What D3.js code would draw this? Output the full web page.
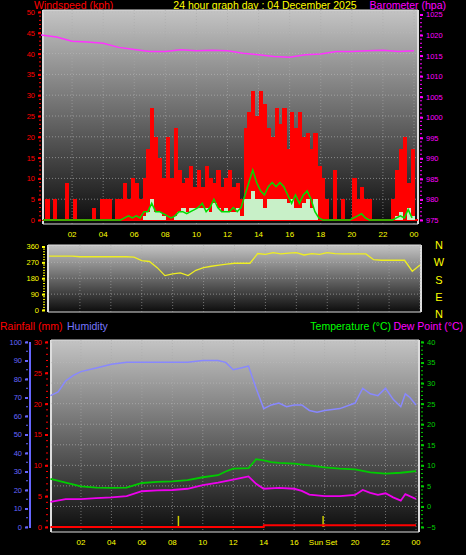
<!DOCTYPE html>
<html><head><meta charset="utf-8">
<script src="https://cdn.jsdelivr.net/npm/d3@7"></script>
<style>body{margin:0;background:#000}svg{display:block;font-family:"Liberation Sans",Arial,sans-serif}</style>
</head><body><svg id="c" width="466" height="555"></svg>
<script>
// ---- data ----
const hourTicks = ["02","04","06","08","10","12","14","16","18","20","22","00"];
const gust = [0,5,0,5, 0,0,9,0, 5,0,0,0, 0,3,0,5, 5,5,0,5, 5,9,5,10, 9,5,10,17, 27,20,15,10,
  20,10,22,12, 9,10,13,8, 12,8,13,10, 9,12,8,10, 12,8,9,5, 22,26,31,25, 31,28,22,20, 27,23,27,17,
  26,22,26,20, 21,17,21,13, 10,5,0,12, 0,5,0,0, 10,5,8,5, 5,0,0,0, 0,0,5,12, 17,20,9,17];
const windAvg = [0,0,0,0, 0,0,0,0, 0,0,0,0, 0,0,0,0, 0,0,0,0, 0,0.5,1,0.5, 1,0.5,2,2, 4,2,2,1.5,
  1,0.5,1,2, 2,1.5,2,2.5, 3,4,2,3, 5,3,2,2, 2,3,2,3, 6,9,12,9, 7,6,8,9, 8,9,8,6,
  4,6,4,6, 7,5,2,0.5, 0,0,0,0, 0,0,0,0, 0.5,1,1.5,0.5, 0,0,0,0, 0,0,0,0.5, 1,0.5,2.5,0.5];
const windSpd = [0,0,0,0, 0,0,0,0, 0,0,0,0, 0,0,0,0, 0,0,0,0, 0,0,0,0, 0,0,1,2, 5,2,2,1,
  0,0,1,2, 3,2,3,3, 3,3,3,2, 4,3,2,3, 2,2,3,1, 5,5,7,5, 5,3,5,5, 5,5,5,4,
  5,3,3,4, 5,3,5,0, 0,0,0,0, 0,0,0,0, 0,0,0,0, 0,0,0,0, 0,0,0,1, 2,0,3,1];
const baro = [1020,1019.5,1018.5,1018.3,1018,1017,1016.5,1016,1016,1016.4,1016.2,1016.3,1016.2,
  1015.6,1015.2,1014.8,1014.6,1015.2,1015.4,1016,1016,1016.2,1016.3,1016,1016.2];
const windDir = [305,305,305,305,302,302,302,302,302,302,302,300,280,275,240,195,205,210,195,225,
  240,248,255,260,265,265,265,320,315,325,318,322,325,312,320,315,325,320,318,318,318,318,
  285,282,282,282,282,220,255];
const humHours = [0,0.5,1,1.5,2,3,4,5,6,8,9,10,11,11.5,12,12.5,13,13.5,14,14.5,15,15.5,16,16.5,17,17.5,18,19,20,20.5,21,21.5,22,22.5,23,23.3,23.6,24];
const humidity = [71,73,79,82,84,86,88,89,89,89,89,90,90,89,85,86,87,75,64,66,67,65,66,66,63,62,63,64,67,75,72,71,75,69,65,72,70,66];
const tHours = [0,1,2,3,4,5,6,7,8,9,10,11,11.5,12,13,13.5,14,14.5,15,16,17,18,19,20,21,22,23,24];
const temp = [6.7,5.8,4.9,4.6,4.5,4.6,5.7,6.0,6.1,6.4,7.1,7.6,8.5,9.2,9.3,11.5,11.2,10.8,10.6,10.4,10,9.5,9.2,9,8.3,8,8.2,8.6];
const dHours = [0,1,2,3,4,5,6,7,8,9,10,11,12,13,13.5,14,15,16,16.5,17,18,19,20,20.5,21,21.5,22,22.5,23,23.3,24];
const dew = [1.1,1.8,1.8,2.0,2.2,2.5,3.7,3.9,4.0,4.3,5.2,5.8,6.5,7.3,5.5,4.3,4.5,4.3,3.8,2.9,2.5,2.5,2.8,4,3.3,2.8,3.2,2.2,1.4,3,1.8];
const rainHours = [0,14,14.01,24];
const rain = [0,0,0.3,0.3];
const sunEvents = [8.4,17.9];

// ---- drawing ----
const svg = d3.select("#c");
const defs = svg.append("defs");
const g = defs.append("linearGradient").attr("id","bg").attr("x1",0).attr("x2",0).attr("y1",0).attr("y2",1);
g.append("stop").attr("offset","0%").attr("stop-color","#c4c4c4");
g.append("stop").attr("offset","100%").attr("stop-color","#0c0c0c");

function panel(x0,x1,y0,y1){
  svg.append("rect").attr("x",x0).attr("y",y0).attr("width",x1-x0).attr("height",y1-y0).attr("fill","url(#bg)");
  svg.append("line").attr("x1",x0).attr("x2",x0).attr("y1",y0).attr("y2",y1).attr("stroke","#ddd").attr("stroke-width",2);
  svg.append("line").attr("x1",x1).attr("x2",x1).attr("y1",y0).attr("y2",y1).attr("stroke","#ddd").attr("stroke-width",2);
  svg.append("line").attr("x1",x0).attr("x2",x1).attr("y1",y0).attr("y2",y0).attr("stroke","#ddd").attr("stroke-width",1);
  svg.append("line").attr("x1",x0).attr("x2",x1).attr("y1",y1).attr("y2",y1).attr("stroke","#ddd").attr("stroke-width",1);
}
function grid(x, y, ticks, x0,x1,y0,y1){
  hourTicks.forEach((t,i)=>{const xx=x((i+1)*2);
    svg.append("line").attr("x1",xx).attr("x2",xx).attr("y1",y0).attr("y2",y1).attr("stroke","#aaa").attr("stroke-opacity",0.6).attr("stroke-dasharray","1,2");});
  ticks.forEach(v=>{const yy=y(v);
    svg.append("line").attr("x1",x0).attr("x2",x1).attr("y1",yy).attr("y2",yy).attr("stroke","#bbb").attr("stroke-opacity",0.6).attr("stroke-dasharray","1,2");});
}
function xLabels(x,yy,skip){
  hourTicks.forEach((t,i)=>{ if(skip&&skip(i))return;
    svg.append("text").attr("x",x((i+1)*2)).attr("y",yy).attr("fill","#ffff00").attr("font-size",8).attr("text-anchor","middle").text(t);});
}
function yAxis(scale, ticks, xpos, side, color, minor){
  const ax = (side==="left"?d3.axisLeft(scale):d3.axisRight(scale)).tickValues(ticks).tickFormat(d3.format("d")).tickSize(3).tickPadding(3);
  const gg = svg.append("g").attr("transform",`translate(${xpos},0)`).call(ax);
  gg.select(".domain").remove();
  gg.selectAll("line").attr("stroke",color).attr("stroke-width",2);
  gg.selectAll("text").attr("fill",color).attr("font-size",7.5).attr("font-family","Liberation Sans,Arial");
  if(minor){ minor.forEach(v=>svg.append("line").attr("x1",xpos).attr("x2",xpos+(side==="left"?-2:2)).attr("y1",scale(v)).attr("y2",scale(v)).attr("stroke",color)); }
}
function txt(x,y,s,c,anchor,fs){svg.append("text").attr("x",x).attr("y",y).attr("fill",c).attr("font-size",fs||10.5).attr("text-anchor",anchor||"start").text(s);}

// Titles
txt(34,9,"Windspeed (kph)","#ff0000","start");
txt(265,9,"24 hour graph day : 04 December 2025","#ffff00","middle");
txt(446,9,"Barometer (hpa)","#ff00ff","end");

// ----- top panel -----
const tx = d3.scaleLinear().domain([0,24]).range([41,414]);
const wy = d3.scaleLinear().domain([0,50]).range([220,12]);
const by = d3.scaleLinear().domain([975,1025]).range([220,14.5]);
panel(43,418,10,224);
grid(tx, wy, d3.range(5,51,5), 43,418,10,224);
const step = 0.25;
const bw = tx(step)-tx(0);
svg.append("g").attr("shape-rendering","crispEdges").selectAll("rect").data(gust).join("rect")
  .attr("x",(d,i)=>tx(i*step)+0.5).attr("width",bw+0.3)
  .attr("y",d=>wy(d)).attr("height",d=>wy(0)-wy(d)+1).attr("fill","#ff0000");
svg.append("line").attr("x1",43).attr("x2",418).attr("y1",wy(0)).attr("y2",wy(0)).attr("stroke","#ff0000").attr("stroke-width",2);
svg.append("g").attr("shape-rendering","crispEdges").selectAll("rect").data(windSpd).join("rect")
  .attr("x",(d,i)=>tx(i*step)+0.5).attr("width",bw+0.3)
  .attr("y",d=>wy(d)).attr("height",d=>wy(0)-wy(d)).attr("fill","#c8f0c8");
svg.append("path").datum(windAvg).attr("fill","none").attr("stroke","#00dd00").attr("stroke-width",1.5)
  .attr("d",d3.line().x((d,i)=>tx(i*step+step/2)).y(d=>wy(d)));
svg.append("path").datum(baro).attr("fill","none").attr("stroke","#ff33ff").attr("stroke-width",1.5)
  .attr("d",d3.line().x((d,i)=>tx(i)).y(d=>by(d)));
yAxis(wy, d3.range(0,51,5), 41,"left","#ff0000", d3.range(0,51,1));
yAxis(by, d3.range(975,1026,5), 420,"right","#ff00ff", d3.range(975,1026,1));
xLabels(tx,237);

// ----- middle panel -----
const dx = d3.scaleLinear().domain([0,24]).range([49,420]);
const dy = d3.scaleLinear().domain([0,360]).range([310,246.5]);
panel(48,421,245,312);
grid(dx, dy, [90,180,270,360], 48,421,245,312);
svg.append("path").datum(windDir).attr("fill","none").attr("stroke","#eeee22").attr("stroke-width",1.3)
  .attr("d",d3.line().x((d,i)=>dx(i*0.5)).y(d=>dy(d)));
yAxis(dy,[0,90,180,270,360],45,"left","#ffff00", d3.range(0,361,15));
[["N",245],["W",262],["S",280],["E",297],["N",314]].forEach(([s,y])=>txt(439,y+4,s,"#ffff00","middle",11));

// ----- bottom panel -----
txt(0,330,"Rainfall (mm)","#ff0000","start");
txt(67,330,"Humidity","#7777ff","start");
txt(391,330,"Temperature (°C)","#00ff00","end");
txt(463,330,"Dew Point (°C)","#ff00ff","end");
const bx = d3.scaleLinear().domain([0,24]).range([50.5,416]);
const hy = d3.scaleLinear().domain([0,100]).range([527,342]);
const ry = d3.scaleLinear().domain([0,30]).range([527,342]);
const ty = d3.scaleLinear().domain([-5,40]).range([527,342]);
panel(51,419,340,532);
grid(bx, ty, d3.range(0,41,5), 51,419,340,532);
sunEvents.forEach(h=>svg.append("line").attr("x1",bx(h)).attr("x2",bx(h)).attr("y1",ry(0)).attr("y2",ry(1.8)).attr("stroke","#cccc00").attr("stroke-width",1.5));
svg.append("path").datum(humidity).attr("fill","none").attr("stroke","#8888ff").attr("stroke-width",1.5)
  .attr("d",d3.line().x((d,i)=>bx(humHours[i])).y(d=>hy(d)));
svg.append("path").datum(temp).attr("fill","none").attr("stroke","#00cc00").attr("stroke-width",1.8)
  .attr("d",d3.line().x((d,i)=>bx(tHours[i])).y(d=>ty(d)));
svg.append("path").datum(dew).attr("fill","none").attr("stroke","#ee00ee").attr("stroke-width",1.8)
  .attr("d",d3.line().x((d,i)=>bx(dHours[i])).y(d=>ty(d)));
svg.append("path").datum(rain).attr("fill","none").attr("stroke","#ff0000").attr("stroke-width",2)
  .attr("d",d3.line().x((d,i)=>bx(rainHours[i])).y(d=>ry(d)));
svg.append("line").attr("x1",30).attr("x2",30).attr("y1",342).attr("y2",528).attr("stroke","#6666ff").attr("stroke-width",2);
yAxis(hy, d3.range(0,101,10), 28,"left","#6666ff", d3.range(0,101,5));
yAxis(ry, d3.range(0,31,5), 48,"left","#ff0000", d3.range(0,31,1));
yAxis(ty, d3.range(-5,41,5), 421,"right","#00cc00", d3.range(-5,41,1));
xLabels(bx,545,i=>i===8);
txt(bx(17.9),545,"Sun Set","#ffff00","middle",8);
</script></body></html>
